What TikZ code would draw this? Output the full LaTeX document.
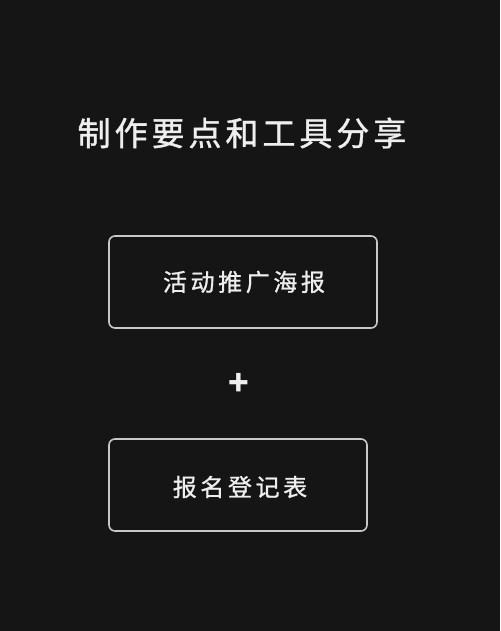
\documentclass[tikz,border=0pt]{standalone}
\usepackage{fontspec}
\newfontfamily\cjk{Noto Sans CJK SC}
\definecolor{bg}{HTML}{151515}
\definecolor{fg}{HTML}{EEEEEE}
\definecolor{edge}{HTML}{C8C8C8}
\begin{document}
\begin{tikzpicture}[x=1pt,y=-1pt,
  txt/.style={text=fg,inner sep=0pt},
  card/.style={draw=edge,line width=1.6pt,rounded corners=6pt}]
\fill[bg] (0,0) rectangle (500,631);
\useasboundingbox (0,0) rectangle (500,631);
\node[txt,font={\cjk\fontsize{33}{36}\selectfont\addfontfeatures{LetterSpace=12,FakeBold=1.2}}] (title) at (242,133) {制作要点和工具分享};
\draw[card] (109,236) rectangle (377,328);
\node[txt,font={\cjk\fontsize{24}{26}\selectfont\addfontfeatures{LetterSpace=15,FakeBold=1}}] (a) at (244,282) {活动推广海报};
\node[txt,font={\cjk\bfseries\fontsize{34}{36}\selectfont}] (plus) at (239,384) {+};
\draw[card] (109,439) rectangle (367,531);
\node[txt,font={\cjk\fontsize{24}{26}\selectfont\addfontfeatures{LetterSpace=15,FakeBold=1}}] (b) at (240,487) {报名登记表};
\end{tikzpicture}
\end{document}
